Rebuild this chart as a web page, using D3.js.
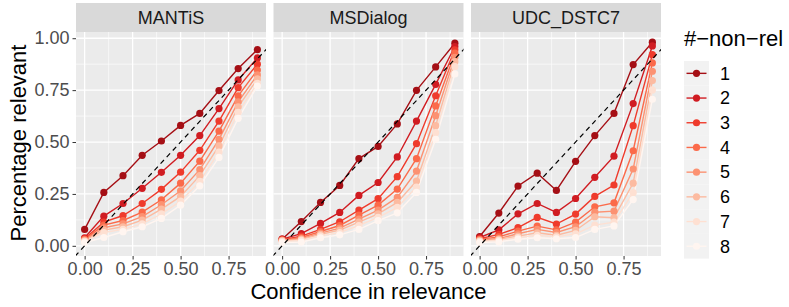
<!DOCTYPE html>
<html>
<head>
<meta charset="utf-8">
<script src="https://cdn.jsdelivr.net/npm/d3@7"></script>
<style>
  body { margin: 0; background: #fff; }
  svg text { font-family: "Liberation Sans", Arial, sans-serif; }
</style>
</head>
<body>
<div id="chart"></div>
<script>
// confidence buckets (x) and the number of non-relevant candidates (legend)
const confidence = [0, 0.1, 0.2, 0.3, 0.4, 0.5, 0.6, 0.7, 0.8, 0.9];
const nonRel = ["1", "2", "3", "4", "5", "6", "7", "8"];
const datasets = ["MANTiS", "MSDialog", "UDC_DSTC7"];
const tickValues = [0, 0.25, 0.5, 0.75, 1];

// one row per #-non-rel, one value per confidence bucket
const mantis = [
  [0.079, 0.257, 0.338, 0.436, 0.505, 0.580, 0.638, 0.748, 0.854, 0.945],
  [0.039, 0.143, 0.204, 0.277, 0.354, 0.436, 0.531, 0.661, 0.799, 0.905],
  [0.034, 0.114, 0.146, 0.204, 0.272, 0.355, 0.460, 0.601, 0.762, 0.875],
  [0.031, 0.100, 0.122, 0.162, 0.222, 0.302, 0.408, 0.553, 0.722, 0.847],
  [0.027, 0.087, 0.106, 0.141, 0.198, 0.265, 0.367, 0.513, 0.693, 0.823],
  [0.024, 0.076, 0.092, 0.124, 0.177, 0.238, 0.338, 0.481, 0.670, 0.804],
  [0.021, 0.064, 0.079, 0.106, 0.154, 0.215, 0.310, 0.452, 0.643, 0.783],
  [0.016, 0.040, 0.068, 0.092, 0.132, 0.196, 0.289, 0.426, 0.614, 0.770]
];
const msdialog = [
  [0.032, 0.117, 0.209, 0.291, 0.420, 0.479, 0.587, 0.749, 0.862, 0.976],
  [0.032, 0.059, 0.108, 0.161, 0.243, 0.305, 0.428, 0.601, 0.778, 0.960],
  [0.029, 0.047, 0.079, 0.116, 0.172, 0.227, 0.333, 0.492, 0.723, 0.944],
  [0.027, 0.040, 0.069, 0.098, 0.148, 0.196, 0.273, 0.420, 0.674, 0.928],
  [0.026, 0.035, 0.061, 0.085, 0.129, 0.172, 0.233, 0.360, 0.627, 0.908],
  [0.024, 0.031, 0.055, 0.076, 0.114, 0.154, 0.209, 0.312, 0.579, 0.887],
  [0.021, 0.026, 0.048, 0.064, 0.098, 0.137, 0.185, 0.283, 0.545, 0.863],
  [0.016, 0.018, 0.039, 0.053, 0.079, 0.121, 0.159, 0.257, 0.513, 0.828]
];
const udc = [
  [0.045, 0.158, 0.288, 0.350, 0.267, 0.407, 0.531, 0.638, 0.873, 0.981],
  [0.040, 0.077, 0.154, 0.204, 0.161, 0.228, 0.330, 0.432, 0.685, 0.963],
  [0.034, 0.055, 0.088, 0.137, 0.105, 0.153, 0.238, 0.293, 0.579, 0.921],
  [0.031, 0.043, 0.071, 0.095, 0.077, 0.114, 0.188, 0.207, 0.458, 0.881],
  [0.027, 0.035, 0.058, 0.079, 0.064, 0.092, 0.162, 0.167, 0.370, 0.841],
  [0.024, 0.031, 0.047, 0.063, 0.051, 0.074, 0.140, 0.135, 0.302, 0.796],
  [0.021, 0.026, 0.040, 0.051, 0.043, 0.058, 0.100, 0.114, 0.256, 0.751],
  [0.016, 0.019, 0.032, 0.039, 0.034, 0.040, 0.079, 0.096, 0.223, 0.706]
];
const panelValues = [mantis, msdialog, udc];

const reds = ["#a50f15", "#d01c22", "#ef3b2c", "#fb6a4a", "#fc9272", "#fcbba1", "#fee0d2", "#fff5f0"];

const W = 789, H = 307;
const panelTop = 32, panelBottom = 256, stripTop = 3;
const panelLefts = [76, 273.5, 471], panelW = 190;

const svg = d3.select("#chart").append("svg")
  .attr("width", W).attr("height", H);

const color = d3.scaleOrdinal().domain(nonRel).range(reds);
const y = d3.scaleLinear().domain([-0.049, 1.03]).range([panelBottom, panelTop]);
const minor = [0.125, 0.375, 0.625, 0.875];

datasets.forEach(function (name, p) {
  const x0 = panelLefts[p];
  const x = d3.scaleLinear().domain([-0.045, 0.945]).range([x0, x0 + panelW]);
  const g = svg.append("g");

  // strip
  g.append("rect").attr("x", x0).attr("y", stripTop)
    .attr("width", panelW).attr("height", panelTop - stripTop).attr("fill", "#d9d9d9");
  g.append("text").attr("x", x0 + panelW / 2).attr("y", 23.5)
    .attr("text-anchor", "middle").attr("font-size", 18).attr("fill", "#1a1a1a")
    .text(name);

  // panel + grid
  g.append("rect").attr("x", x0).attr("y", panelTop)
    .attr("width", panelW).attr("height", panelBottom - panelTop).attr("fill", "#ebebeb");
  minor.forEach(function (v) {
    g.append("line").attr("x1", x0).attr("x2", x0 + panelW).attr("y1", y(v)).attr("y2", y(v))
      .attr("stroke", "#fff").attr("stroke-width", 0.6);
    if (v < 0.945) g.append("line").attr("y1", panelTop).attr("y2", panelBottom).attr("x1", x(v)).attr("x2", x(v))
      .attr("stroke", "#fff").attr("stroke-width", 0.6);
  });
  tickValues.forEach(function (v) {
    g.append("line").attr("x1", x0).attr("x2", x0 + panelW).attr("y1", y(v)).attr("y2", y(v))
      .attr("stroke", "#fff").attr("stroke-width", 1.3);
    if (v < 0.945) g.append("line").attr("y1", panelTop).attr("y2", panelBottom).attr("x1", x(v)).attr("x2", x(v))
      .attr("stroke", "#fff").attr("stroke-width", 1.3);
  });

  // x axis
  const xAxis = d3.axisBottom(x).tickValues([0, 0.25, 0.5, 0.75])
    .tickFormat(d3.format(".2f")).tickSize(3.5).tickPadding(3);
  const xa = g.append("g").attr("transform", "translate(0," + panelBottom + ")").call(xAxis);
  xa.select(".domain").remove();
  xa.selectAll("line").attr("stroke", "#333").attr("stroke-width", 1);
  xa.selectAll("text").attr("font-size", 18).attr("fill", "#4d4d4d")
    .attr("font-family", "Liberation Sans, Arial, sans-serif");

  if (p === 0) {
    const yAxis = d3.axisLeft(y).tickValues(tickValues)
      .tickFormat(d3.format(".2f")).tickSize(3.5).tickPadding(3);
    const ya = g.append("g").attr("transform", "translate(" + x0 + ",0)").call(yAxis);
    ya.select(".domain").remove();
    ya.selectAll("line").attr("stroke", "#333").attr("stroke-width", 1);
    ya.selectAll("text").attr("font-size", 18).attr("fill", "#4d4d4d")
      .attr("font-family", "Liberation Sans, Arial, sans-serif");
  }

  const clip = "clip" + p;
  g.append("clipPath").attr("id", clip).append("rect")
    .attr("x", x0).attr("y", panelTop).attr("width", panelW).attr("height", panelBottom - panelTop);

  const series = panelValues[p].map(function (vals, i) {
    return { key: nonRel[i], pts: vals.map(function (v, j) { return [confidence[j], v]; }) };
  });
  const line = d3.line().x(function (d) { return x(d[0]); }).y(function (d) { return y(d[1]); });

  const marks = g.append("g").attr("clip-path", "url(#" + clip + ")");
  marks.selectAll("path.series").data(series).enter().append("path")
    .attr("class", "series")
    .attr("d", function (d) { return line(d.pts); })
    .attr("fill", "none").attr("stroke", function (d) { return color(d.key); })
    .attr("stroke-width", 1.4);
  series.forEach(function (s) {
    marks.selectAll(null).data(s.pts).enter().append("circle")
      .attr("cx", function (d) { return x(d[0]); })
      .attr("cy", function (d) { return y(d[1]); })
      .attr("r", 3.6).attr("fill", color(s.key));
  });

  // y = x reference line
  marks.append("line")
    .attr("x1", x(-0.05)).attr("y1", y(-0.05)).attr("x2", x(1.05)).attr("y2", y(1.05))
    .attr("stroke", "#000").attr("stroke-width", 1.2).attr("stroke-dasharray", "5,4");
});

// axis titles
svg.append("text").attr("x", 368.5).attr("y", 299).attr("text-anchor", "middle")
  .attr("font-size", 22).attr("fill", "#000").text("Confidence in relevance");
svg.append("text").attr("transform", "translate(26,143) rotate(-90)").attr("text-anchor", "middle")
  .attr("font-size", 22).attr("fill", "#000").text("Percentage relevant");

// legend
const lg = svg.append("g");
lg.append("text").attr("x", 684).attr("y", 46).attr("font-size", 22).attr("fill", "#000").text("#\u2212non\u2212rel");
const keyH = 24.7, keyTop = 61;
nonRel.forEach(function (k, i) {
  const cy = keyTop + keyH * i + keyH / 2;
  lg.append("rect").attr("x", 684).attr("y", keyTop + keyH * i).attr("width", 25).attr("height", keyH)
    .attr("fill", "#f2f2f2");
  lg.append("line").attr("x1", 686.5).attr("x2", 706.5).attr("y1", cy).attr("y2", cy)
    .attr("stroke", color(k)).attr("stroke-width", 1.4);
  lg.append("circle").attr("cx", 696.5).attr("cy", cy).attr("r", 3.6).attr("fill", color(k));
  lg.append("text").attr("x", 720).attr("y", cy + 6.3).attr("font-size", 18).attr("fill", "#000").text(k);
});
</script>
</body>
</html>
